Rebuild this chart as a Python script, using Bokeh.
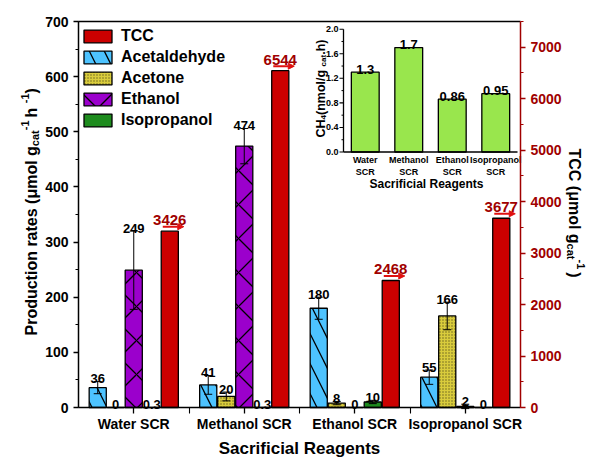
import math
from bokeh.plotting import figure
from bokeh.models import (Range1d, LinearAxis, SingleIntervalTicker, FixedTicker,
                          ColumnDataSource, Whisker, TeeHead, Legend, LegendItem,
                          Arrow, NormalHead, Label)
from bokeh.embed import file_html
from bokeh.resources import INLINE
from bokeh.core.properties import value

# ---------------- data ----------------
categories = ["Water SCR", "Methanol SCR", "Ethanol SCR", "Isopropanol SCR"]
acetaldehyde = [36, 41, 180, 55]
acetaldehyde_err = [11, 17, 20, 13]
acetone = [0, 20, 8, 166]
acetone_err = [0, 8, 3, 25]
ethanol = [249, 474, 0, 2]
ethanol_err = [71, 32, 0, 4]
isopropanol = [0.3, 0.3, 10, 0]
isopropanol_err = [0, 0, 3, 0]
tcc = [3426, 6544, 2468, 3677]

inset_categories = ["Water\nSCR", "Methanol\nSCR", "Ethanol\nSCR", "Isopropanol\nSCR"]
ch4 = [1.3, 1.7, 0.86, 0.95]
inset_ticks = [0.0, 0.4, 0.8, 1.2, 1.6, 2.0]

# ---------------- layout constants (canvas pixels) ----------------
FONT = "Liberation Sans"
W, H = 589, 457
FL, FR, FT, FB = 78, 520, 21, 407          # data box edges
YMAX, TCC_MAX = 700, 7500
IX0, IX4 = 343, 517                         # inset x: value 0 and 4
IY0, IY2 = 151.5, 28.7                      # inset y: value 0 and 2
DARKRED = "#A00000"
ARROW = "#E01010"
STEP = 0.163
BW = 0.155


def xr(v0, p0, v1, p1):
    s = (v1 - v0) / (p1 - p0)
    return Range1d(v0 - p0 * s, v0 + (W - p0) * s)


def yr(v0, p0, v1, p1):
    s = (v1 - v0) / (p1 - p0)
    return Range1d(v0 + (H - p0) * s, v0 - p0 * s)


ncat = len(categories)
p = figure(width=W, height=H, x_range=xr(0, FL, ncat, FR), y_range=yr(0, FB, YMAX, FT),
           output_backend="svg", toolbar_location=None, min_border=0,
           min_border_left=0, min_border_right=0, min_border_top=0, min_border_bottom=0)
p.xgrid.visible = False
p.ygrid.visible = False
p.outline_line_color = None
p.background_fill_color = "white"
p.border_fill_color = "white"

p.extra_y_ranges = {
    "tcc": yr(0, FB, TCC_MAX, FT),
    "iy": yr(0, IY0, 2.0, IY2),
    "py": Range1d(H, 0),
}
p.extra_x_ranges = {
    "ix": xr(0, IX0, 4, IX4),
    "px": Range1d(0, W),
}


def style_axis(ax, color, out=5, mout=3, standoff=5):
    ax.axis_line_color = color
    ax.axis_line_width = 1.5
    ax.major_tick_line_color = color
    ax.minor_tick_line_color = color
    ax.major_tick_line_width = 1.3
    ax.minor_tick_line_width = 1.1
    ax.major_tick_in = 0
    ax.major_tick_out = out
    ax.minor_tick_in = 0
    ax.minor_tick_out = mout
    ax.major_label_text_font = FONT
    ax.major_label_text_font_style = "bold"
    ax.major_label_text_font_size = "14px"
    ax.major_label_text_color = color
    ax.major_label_standoff = standoff


xa = p.xaxis[0]
xa.ticker = FixedTicker(ticks=[i + 0.5 for i in range(ncat)], minor_ticks=list(range(1, ncat)))
xa.major_label_overrides = {i + 0.5: c for i, c in enumerate(categories)}
xa.fixed_location = 0
xa.bounds = (0, ncat)
style_axis(xa, "black", out=6, mout=6, standoff=2)

ya = p.yaxis[0]
ya.ticker = SingleIntervalTicker(interval=100, num_minor_ticks=2)
ya.fixed_location = 0
ya.bounds = (0, YMAX)
style_axis(ya, "black")

ra = LinearAxis(y_range_name="tcc", ticker=SingleIntervalTicker(interval=1000, num_minor_ticks=2),
                fixed_location=ncat, bounds=(0, TCC_MAX))
style_axis(ra, DARKRED)
p.add_layout(ra, "right")

# top border of the data box
p.segment(x0=[0], y0=[YMAX], x1=[ncat], y1=[YMAX], line_color="black", line_width=1.4)

# ---------------- bars ----------------
series = [
    ("Acetaldehyde", acetaldehyde, acetaldehyde_err, "#4DC3FF", "left_diagonal_line", 30, "black"),
    ("Acetone", acetone, acetone_err, "#D9CC3C", "dot", 3, "#6A6420"),
    ("Ethanol", ethanol, ethanol_err, "#9B00CC", "diagonal_cross", 34, "black"),
    ("Isopropanol", isopropanol, isopropanol_err, "#1E8C1E", None, 12, "black"),
]

renderers = {}
wx, wu, wl = [], [], []
lx, ly, lt = [], [], []
for j, (name, vals, errs, color, hatch, hscale, hcolor) in enumerate(series):
    off = (j - 2) * STEP
    xs = [i + 0.5 + off for i in range(len(vals))]
    src = ColumnDataSource(dict(x=xs, top=vals))
    kw = dict(fill_color=color, line_color="black", line_width=1.3)
    if hatch:
        kw.update(hatch_pattern=hatch, hatch_scale=hscale, hatch_color=hcolor,
                  hatch_weight=1.0 if hatch == "dot" else 1.3)
    renderers[name] = p.vbar(x="x", top="top", width=BW, source=src, **kw)
    for x, v, e in zip(xs, vals, errs):
        if e > 0:
            wx.append(x); wu.append(v + e); wl.append(v - e)
        lx.append(x); ly.append(v + e); lt.append(f"{v:g}")

tx = [i + 0.5 + 2 * STEP for i in range(len(tcc))]
renderers["TCC"] = p.vbar(x=tx, top=tcc, width=BW, y_range_name="tcc",
                          fill_color="#CC0000", line_color="black", line_width=1.3)

wsrc = ColumnDataSource(dict(x=wx, upper=wu, lower=wl))
p.add_layout(Whisker(source=wsrc, base="x", upper="upper", lower="lower",
                     line_color="black", line_width=1, level="annotation",
                     upper_head=TeeHead(size=8, line_color="black", line_width=1),
                     lower_head=TeeHead(size=8, line_color="black", line_width=1)))

p.text(x=lx, y=ly, text=lt, y_offset=-3, text_align="center", text_baseline="alphabetic",
       text_font=value(FONT), text_font_style="bold", text_font_size=value("13px"),
       text_color="black")

# TCC labels and arrows
px_tcc = TCC_MAX / (FB - FT)
px_x = ncat / (FR - FL)
p.text(x=tx, y=tcc, text=[f"{t:g}" for t in tcc], y_range_name="tcc", y_offset=-11,
       text_align="center", text_baseline="alphabetic",
       text_font=value(FONT), text_font_style="bold", text_font_size=value("15px"),
       text_color=DARKRED)
asrc = ColumnDataSource(dict(xs=[x - 7 * px_x for x in tx], xe=[x + 14 * px_x for x in tx],
                             y=[t + 4.5 * px_tcc for t in tcc]))
p.add_layout(Arrow(source=asrc, x_start="xs", y_start="y", x_end="xe", y_end="y",
                   y_range_name="tcc", line_color=ARROW, line_width=2,
                   end=NormalHead(size=6, fill_color=ARROW, line_color=ARROW, line_width=1)))

# legend
legend = Legend(items=[LegendItem(label=n, renderers=[renderers[n]])
                       for n in ["TCC", "Acetaldehyde", "Acetone", "Ethanol", "Isopropanol"]],
                location=(80, H - 129), margin=0, padding=6, border_line_color=None,
                background_fill_alpha=0, label_text_font=FONT, label_text_font_style="bold",
                label_text_font_size="16px", label_text_color="black",
                glyph_width=35, glyph_height=16,
                label_height=16, label_standoff=6, spacing=3)
p.add_layout(legend)

# ---------------- inset ----------------
TXT = dict(text_font=value(FONT), text_font_style="bold", text_color="black")
ixs = [i + 0.5 for i in range(len(ch4))]
p.vbar(x=ixs, top=ch4, width=0.64, x_range_name="ix", y_range_name="iy",
       fill_color="#99E64D", line_color="black", line_width=1.3)
p.text(x=ixs, y=ch4, text=[f"{v:g}" for v in ch4], x_range_name="ix", y_range_name="iy",
       y_offset=-3, text_align="center", text_baseline="alphabetic",
       text_font_size=value("13px"), **TXT)
p.segment(x0=[0, 0], y0=[0, 0], x1=[0, 4], y1=[2.0, 0], x_range_name="ix", y_range_name="iy",
          line_color="black", line_width=1.3)
ux = (IX4 - IX0) / 4.0
minor = [t + 0.2 for t in inset_ticks[:-1]]
p.segment(x0=[-4 / ux] * len(inset_ticks), y0=inset_ticks, x1=[0] * len(inset_ticks), y1=inset_ticks,
          x_range_name="ix", y_range_name="iy", line_color="black", line_width=1.1)
p.segment(x0=[-2 / ux] * len(minor), y0=minor, x1=[0] * len(minor), y1=minor,
          x_range_name="ix", y_range_name="iy", line_color="black", line_width=1)
p.text(x=[0] * len(inset_ticks), y=inset_ticks, text=[f"{t:.1f}" for t in inset_ticks],
       x_offset=-5, x_range_name="ix", y_range_name="iy", text_align="right", text_baseline="middle",
       text_font_size=value("9px"), **TXT)
p.text(x=ixs, y=[0] * len(ixs), text=inset_categories, y_offset=3, x_range_name="ix", y_range_name="iy",
       text_align="center", text_baseline="top", text_line_height=1.2,
       text_font_size=value("9px"), **TXT)
p.text(x=[2], y=[0], text=["Sacrificial Reagents"], x_offset=-4, y_offset=25,
       x_range_name="ix", y_range_name="iy", text_align="center", text_baseline="top",
       text_font_size=value("12px"), **TXT)

# ---------------- axis titles (rich text) ----------------
AW = {'P': 667, 'r': 389, 'o': 611, 'd': 611, 'u': 611, 'c': 556, 't': 333, 'i': 278, 'n': 611,
      ' ': 278, 'a': 556, 'e': 556, 's': 556, '(': 333, 'μ': 611, 'm': 889, 'l': 278, 'g': 611,
      ')': 333, 'h': 611, '-': 333, '1': 556, 'T': 611, 'C': 722, 'H': 722, '4': 556, '/': 278,
      '.': 278, 'S': 667, 'R': 722, 'f': 333}


def tw(s, size):
    return sum(AW.get(ch, 556) for ch in s) * size / 1000.0


def rich(pieces, x, y, direction, color="black"):
    ang = direction * math.pi / 2
    pos = y
    for text, size, shift in pieces:
        p.add_layout(Label(x=x - direction * shift, y=pos, text=text, angle=ang,
                           x_range_name="px", y_range_name="py",
                           text_font=FONT, text_font_style="bold", text_font_size=f"{size}px",
                           text_color=color, text_align="left", text_baseline="alphabetic"))
        pos -= direction * tw(text, size)


rich([("Production rates (μmol g", 16, 0), ("cat", 11, -3.5), (" -1", 11, 6.5),
      (" h", 16, 0), ("-1", 11, 6.5), (")", 16, 0)], x=31, y=335, direction=1)
rich([("TCC (μmol g", 16, 0), ("cat", 11, -3.5), (" -1", 11, 6.5), (")", 16, 0)],
     x=574, y=148, direction=-1)
rich([("CH", 12.5, 0), ("4", 8, -2.5), (" (nmol/g", 12.5, 0), ("cat", 8, -2.5), (".h)", 12.5, 0)],
     x=320, y=137, direction=1)

p.add_layout(Label(x=(FL + FR) / 2, y=448, text="Sacrificial Reagents", x_range_name="px", y_range_name="py",
                   text_font=FONT, text_font_style="bold", text_font_size="17px",
                   text_color="black", text_align="center", text_baseline="alphabetic"))

open("out.html", "w").write(file_html(p, INLINE))
